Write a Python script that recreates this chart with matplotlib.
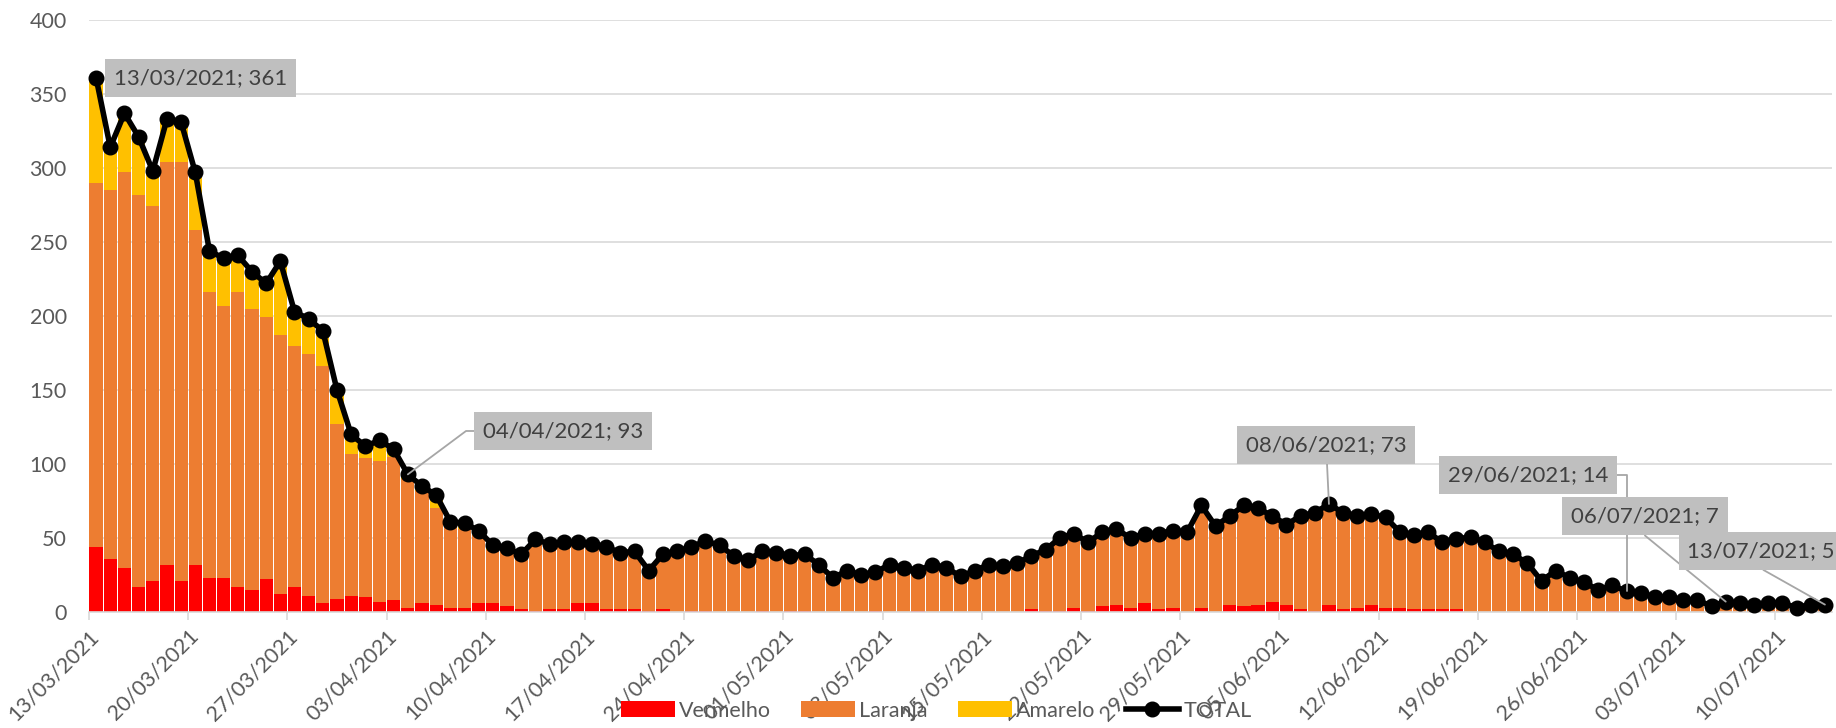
import matplotlib
matplotlib.use('Agg')
import matplotlib.pyplot as plt
import numpy as np
import pandas as pd

plt.rcParams['font.family'] = ['Lato', 'DejaVu Sans']

dates = pd.date_range('2021-03-13', '2021-07-13', freq='D')

vermelho = [44, 36, 30, 17, 21, 32, 21, 32, 23, 23,
            17, 15, 22, 12, 17, 11, 6, 9, 11, 10,
            7, 8, 3, 6, 5, 3, 3, 6, 6, 4,
            2, 1, 2, 2, 6, 6, 2, 2, 2, 1,
            2, 0, 1, 1, 0, 0, 0, 1, 0, 1,
            1, 0, 0, 0, 0, 1, 0, 0, 1, 0,
            0, 0, 0, 0, 0, 0, 2, 1, 1, 3,
            1, 4, 5, 3, 6, 2, 3, 0, 3, 0,
            5, 4, 5, 7, 5, 2, 1, 5, 2, 3,
            5, 3, 3, 2, 2, 2, 2, 0, 0, 0,
            0, 0, 0, 0, 0, 0, 0, 1, 0, 0,
            0, 0, 0, 0, 0, 0, 0, 0, 0, 0,
            0, 0, 0]

laranja = [246, 249, 267, 265, 253, 272, 283, 226, 193, 184,
           199, 190, 177, 175, 163, 163, 160, 118, 96, 94,
           95, 97, 87, 76, 65, 55, 53, 46, 36, 37,
           35, 48, 44, 45, 41, 40, 42, 38, 39, 27,
           37, 41, 43, 47, 45, 38, 35, 40, 40, 37,
           38, 32, 23, 28, 25, 26, 32, 30, 27, 32,
           30, 24, 28, 32, 31, 33, 36, 41, 49, 50,
           46, 50, 51, 47, 47, 51, 52, 54, 69, 58,
           60, 68, 65, 58, 54, 63, 66, 68, 65, 62,
           61, 61, 51, 50, 52, 45, 47, 51, 47, 41,
           39, 33, 21, 28, 23, 20, 15, 17, 14, 13,
           10, 10, 8, 8, 4, 7, 6, 5, 6, 6,
           3, 5, 5]

amarelo = [71, 29, 40, 39, 24, 29, 27, 39, 28, 32,
           25, 25, 23, 50, 23, 24, 24, 23, 13, 8,
           14, 5, 3, 3, 9, 3, 4, 3, 3, 2,
           2] + [0] * 92

total = [361, 314, 337, 321, 298, 333, 331, 297, 244, 239,
         241, 230, 222, 237, 203, 198, 190, 150, 120, 112,
         116, 110, 93, 85, 79, 61, 60, 55, 45, 43,
         39, 49, 46, 47, 47, 46, 44, 40, 41, 28,
         39, 41, 44, 48, 45, 38, 35, 41, 40, 38,
         39, 32, 23, 28, 25, 27, 32, 30, 28, 32,
         30, 24, 28, 32, 31, 33, 38, 42, 50, 53,
         47, 54, 56, 50, 53, 53, 55, 54, 72, 58,
         65, 72, 70, 65, 59, 65, 67, 73, 67, 65,
         66, 64, 54, 52, 54, 47, 49, 51, 47, 41,
         39, 33, 21, 28, 23, 20, 15, 18, 14, 13,
         10, 10, 8, 8, 4, 7, 6, 5, 6, 6,
         3, 5, 5]

# points with a data label
label_days = [0, 22, 87, 108, 115, 122]

# label box centres (data coords) and leader line shapes
label_pos = [(7.9, 361), (33.45, 122.3), (87.3, 112.8), (101.55, 92.6), (109.8, 64.9), (118.0, 41.2)]
leader_style = [None, 'angle,angleA=0,angleB=36.7,rad=0', 'arc3', 'angle,angleA=0,angleB=90,rad=0',
                'angle,angleA=90,angleB=140.7,rad=0', 'angle,angleA=90,angleB=150.6,rad=0']

grey_txt = '#595959'
n = len(dates)
x = np.arange(n) + 0.5
v = np.array(vermelho)
l = np.array(laranja)
a = np.array(amarelo)

fig = plt.figure(figsize=(18.36, 7.28), dpi=100)
ax = fig.add_axes([89 / 1836, 116 / 728, (1832 - 89) / 1836, (612 - 20) / 728])

ax.bar(x, v, width=0.93, color='#FF0000', label='Vermelho', zorder=2)
ax.bar(x, l, width=0.93, bottom=v, color='#ED7D31', label='Laranja', zorder=2)
ax.bar(x, a, width=0.93, bottom=v + l, color='#FFC000', label='Amarelo', zorder=2)
ax.plot(x, total, color='black', lw=4, marker='o', ms=10.5, label='TOTAL', zorder=3, clip_on=False)

ax.set_xlim(0, n)
ax.set_ylim(0, 400)
ax.set_yticks(range(0, 401, 50))
ax.yaxis.grid(True, color='#D9D9D9', lw=1.2)
ax.set_axisbelow(True)
for s in ['left', 'top', 'right']:
    ax.spines[s].set_visible(False)
ax.spines['bottom'].set_color('#D9D9D9')
ax.spines['bottom'].set_linewidth(1.2)

ticks = np.arange(0, n, 7)
ax.set_xticks(ticks)
ax.set_xticklabels([dates[t].strftime('%d/%m/%Y') for t in ticks], rotation=45,
                   ha='right', va='top', rotation_mode='anchor')
ax.tick_params(axis='x', length=6, color='#D9D9D9', width=1.2, pad=4, labelsize=15.5, labelcolor=grey_txt)
ax.tick_params(axis='y', length=0, pad=16, labelsize=15.5, labelcolor=grey_txt)

for d, (tx, ty), cs in zip(label_days, label_pos, leader_style):
    arrow = None
    if cs:
        arrow = dict(arrowstyle='-', color='#A6A6A6', lw=1.3, shrinkA=0, shrinkB=0, connectionstyle=cs)
    ax.annotate(f'{dates[d]:%d/%m/%Y}; {total[d]}', xy=(x[d], total[d]), xytext=(tx, ty),
                ha='center', va='center', fontsize=16, color='#404040',
                bbox=dict(boxstyle='square,pad=0.4', fc='#BFBFBF', ec='none'),
                arrowprops=arrow, annotation_clip=False, zorder=4)

handles, labels = ax.get_legend_handles_labels()
order = [labels.index(k) for k in ['Vermelho', 'Laranja', 'Amarelo', 'TOTAL']]
fig.legend([handles[i] for i in order], [labels[i] for i in order], loc='center',
           bbox_to_anchor=(0.51, 0.024), ncol=4, frameon=False,
           fontsize=15.5, labelcolor=grey_txt, handlelength=2.5, handleheight=0.75,
           handletextpad=0.2, columnspacing=1.4)

fig.savefig('out.png', dpi=100)
